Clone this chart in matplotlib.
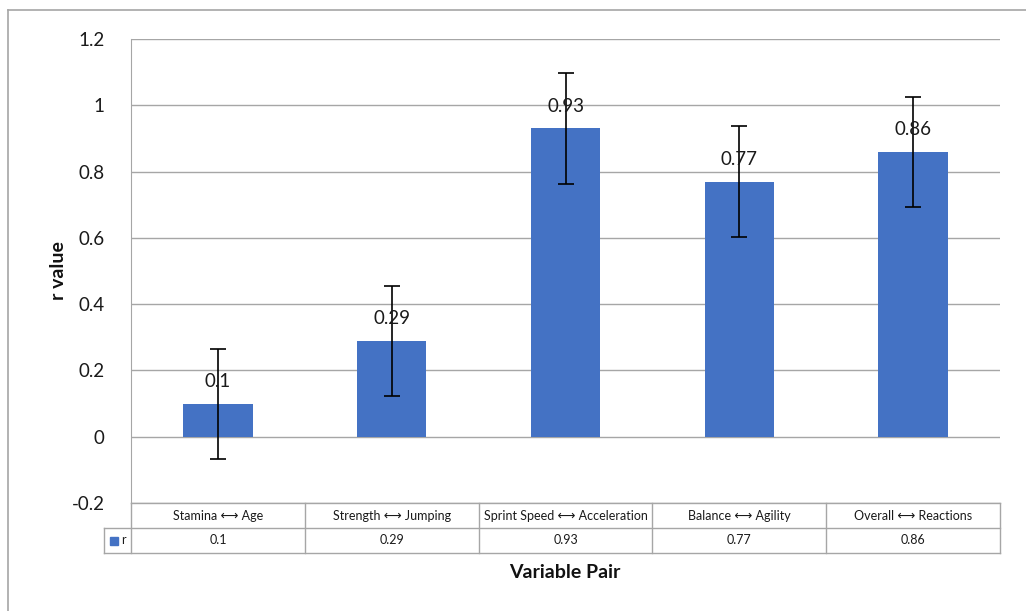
import matplotlib
matplotlib.use("Agg")
import matplotlib.pyplot as plt
from matplotlib.transforms import blended_transform_factory
from matplotlib.patches import Rectangle

categories = ["Stamina \u27f7 Age", "Strength \u27f7 Jumping", "Sprint Speed \u27f7 Acceleration",
              "Balance \u27f7 Agility", "Overall \u27f7 Reactions"]
r_values = [0.1, 0.29, 0.93, 0.77, 0.86]
r_errors = [0.166, 0.166, 0.166, 0.166, 0.166]
series_name = "r"
yticks = [-0.2, 0, 0.2, 0.4, 0.6, 0.8, 1.0, 1.2]
ytick_labels = ["-0.2", "0", "0.2", "0.4", "0.6", "0.8", "1", "1.2"]

plt.rcParams['font.family'] = ['Lato', 'DejaVu Sans']
W, H = 1026, 611
fig = plt.figure(figsize=(W / 100, H / 100), dpi=100)
bar_color = "#4472C4"
grid_color = "#A6A6A6"
text_color = "#1a1a1a"

# axes: plot area x 131..1000, y 39..503 px
x0, x1, y0, y1 = 131, 1000, 39, 503
ax = fig.add_axes([x0 / W, 1 - y1 / H, (x1 - x0) / W, (y1 - y0) / H])

n = len(categories)
xs = list(range(n))
ax.bar(xs, r_values, width=0.4, color=bar_color, zorder=2)
ax.errorbar(xs, r_values, yerr=r_errors, fmt='none', ecolor='black', elinewidth=1.2,
            capsize=6, capthick=1.2, zorder=3)
for x, v in zip(xs, r_values):
    ax.annotate(f"{v:g}", (x, v), xytext=(0, 10), textcoords='offset points',
                ha='center', va='bottom', fontsize=13.5, color=text_color, zorder=4)

ax.set_xlim(-0.5, n - 0.5)
ax.set_ylim(-0.2, 1.2)
ax.set_yticks(yticks)
ax.set_yticklabels(ytick_labels, fontsize=13.5, color=text_color)
ax.set_xticks([])
ax.tick_params(axis='y', length=0, pad=19)
ax.yaxis.grid(True, color=grid_color, linewidth=1.0, zorder=0)
ax.set_axisbelow(True)
for s in ['top', 'right', 'bottom']:
    ax.spines[s].set_visible(False)
ax.spines['left'].set_color(grid_color)
ax.spines['left'].set_bounds(-0.2, 1.2)

# data table below axes
trans = blended_transform_factory(ax.transData, ax.transAxes)
ph = (y1 - y0)
cw = (x1 - x0) / n
row_h = 25 / ph
top_y = 0.0
mid_y = -row_h
bot_y = -2 * row_h
legend_left = -0.5 - 27 / cw
kw = dict(transform=trans, color=grid_color, linewidth=1.0, clip_on=False)
ax.plot([-0.5, n - 0.5], [top_y, top_y], **kw)
ax.plot([legend_left, n - 0.5], [mid_y, mid_y], **kw)
ax.plot([legend_left, n - 0.5], [bot_y, bot_y], **kw)
ax.plot([-0.5, -0.5], [top_y, bot_y], **kw)
ax.plot([legend_left, legend_left], [mid_y, bot_y], **kw)
for i in range(n):
    xr = i + 0.5
    ax.plot([xr, xr], [top_y, bot_y], **kw)
for i, (c, v) in enumerate(zip(categories, r_values)):
    ax.text(i, (top_y + mid_y) / 2, c, transform=trans, ha='center', va='center',
            fontsize=9, color=text_color, clip_on=False)
    ax.text(i, (mid_y + bot_y) / 2, f"{v:g}", transform=trans, ha='center', va='center',
            fontsize=9, color=text_color, clip_on=False)
# legend key
ax.add_patch(Rectangle((legend_left + 6 / cw, (mid_y + bot_y) / 2 - 4 / ph),
                       8 / cw, 8 / ph, transform=trans, color=bar_color, clip_on=False))
ax.text(legend_left + 17 / cw, (mid_y + bot_y) / 2, series_name, transform=trans,
        ha='left', va='center', fontsize=9, color=text_color, clip_on=False)

# axis titles
fig.text(58 / W, 1 - 271 / H, "r value", rotation=90, ha='center', va='center',
         fontsize=14, fontweight='bold', color='#111111')
fig.text(565 / W, 1 - 573 / H, "Variable Pair", ha='center', va='center',
         fontsize=14, fontweight='bold', color='#111111')

# outer chart border (top and left visible)
fig.add_artist(plt.Line2D([8 / W, 8 / W], [0, 1 - 10 / H], transform=fig.transFigure,
                          color=grid_color, linewidth=1.2))
fig.add_artist(plt.Line2D([8 / W, 1], [1 - 10 / H, 1 - 10 / H], transform=fig.transFigure,
                          color=grid_color, linewidth=1.2))

fig.savefig("out.png", dpi=100)
